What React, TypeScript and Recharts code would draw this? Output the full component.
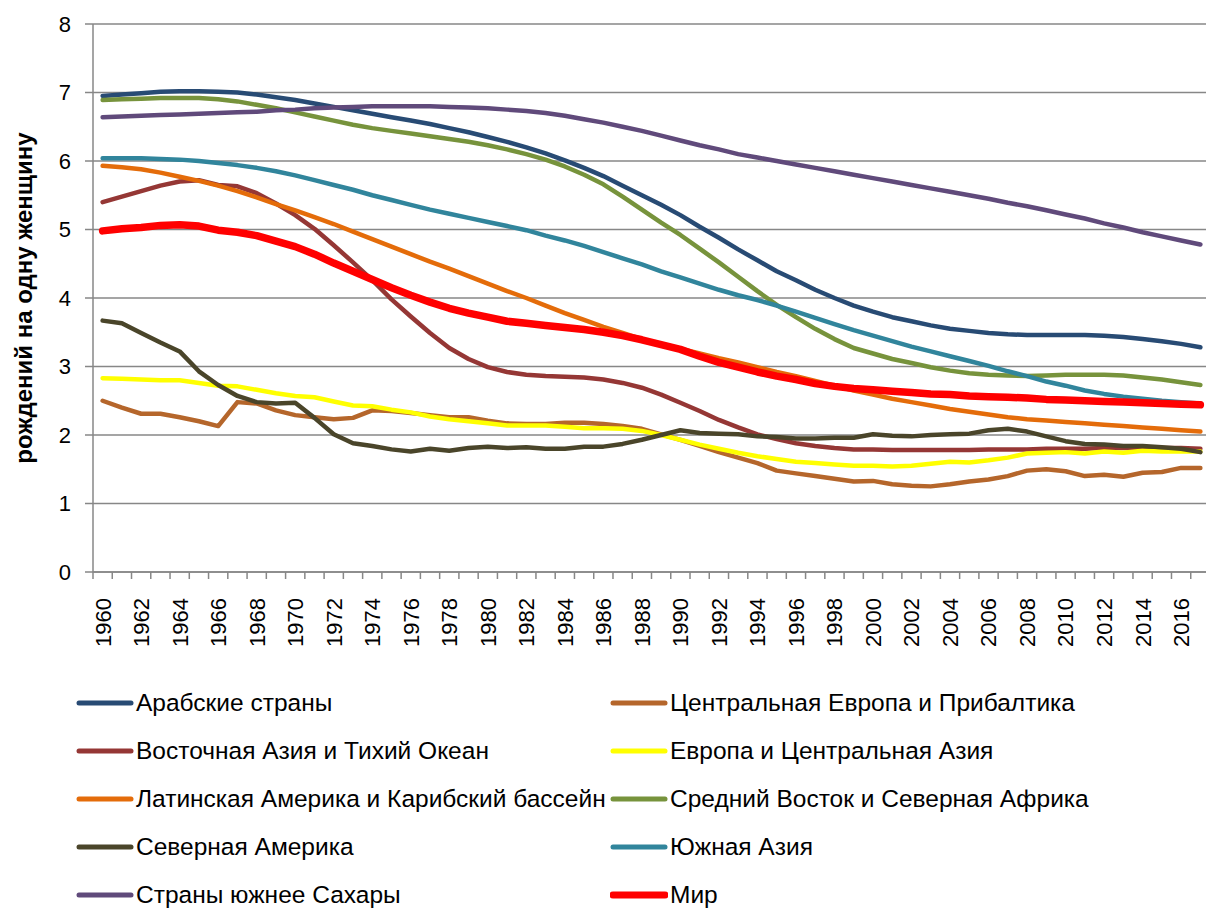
import { LineChart, Line, XAxis, YAxis, CartesianGrid, Legend } from "recharts";

const years = [
  "1960", "1961", "1962", "1963", "1964", "1965", "1966", "1967", "1968", "1969",
  "1970", "1971", "1972", "1973", "1974", "1975", "1976", "1977", "1978", "1979",
  "1980", "1981", "1982", "1983", "1984", "1985", "1986", "1987", "1988", "1989",
  "1990", "1991", "1992", "1993", "1994", "1995", "1996", "1997", "1998", "1999",
  "2000", "2001", "2002", "2003", "2004", "2005", "2006", "2007", "2008", "2009",
  "2010", "2011", "2012", "2013", "2014", "2015", "2016", "2017",
];

const yTicks = [0, 1, 2, 3, 4, 5, 6, 7, 8];

const arab = [
  6.95, 6.97, 6.99, 7.01, 7.02, 7.02, 7.01, 7.0, 6.97, 6.93,
  6.89, 6.84, 6.79, 6.74, 6.69, 6.64, 6.59, 6.54, 6.48, 6.42,
  6.35, 6.28, 6.2, 6.11, 6.01, 5.9, 5.78, 5.64, 5.5, 5.36,
  5.21, 5.04, 4.88, 4.71, 4.55, 4.39, 4.26, 4.12, 4.0, 3.89,
  3.8, 3.72, 3.66, 3.6, 3.55, 3.52, 3.49, 3.47, 3.46, 3.46,
  3.46, 3.46, 3.45, 3.43, 3.4, 3.37, 3.33, 3.28,
];
const centralEurope = [
  2.5, 2.4, 2.31, 2.31, 2.26, 2.2, 2.13, 2.48, 2.46, 2.36,
  2.29, 2.26, 2.23, 2.25, 2.36, 2.35, 2.32, 2.29, 2.26, 2.26,
  2.21, 2.17, 2.16, 2.16, 2.18, 2.18, 2.16, 2.13, 2.09, 2.01,
  1.93, 1.84, 1.75, 1.67, 1.59, 1.48, 1.44, 1.4, 1.36, 1.32,
  1.33, 1.28, 1.26, 1.25, 1.28, 1.32, 1.35, 1.4, 1.48, 1.5,
  1.47, 1.4, 1.42, 1.39, 1.45, 1.46, 1.52, 1.52,
];
const eastAsia = [
  5.4, 5.48, 5.56, 5.64, 5.7, 5.72, 5.65, 5.63, 5.53, 5.38,
  5.21, 5.01, 4.77, 4.52, 4.26, 3.98, 3.73, 3.49, 3.27, 3.11,
  2.99, 2.92, 2.88, 2.86, 2.85, 2.84, 2.81, 2.76, 2.69, 2.59,
  2.47, 2.35, 2.22, 2.11, 2.01, 1.94, 1.88, 1.84, 1.81, 1.79,
  1.79, 1.78, 1.78, 1.78, 1.78, 1.78, 1.79, 1.79, 1.79, 1.8,
  1.8, 1.8, 1.81, 1.81, 1.81, 1.81, 1.81, 1.8,
];
const europeCA = [
  2.83, 2.82, 2.81, 2.8, 2.8, 2.76, 2.72, 2.71, 2.66, 2.61,
  2.57, 2.55, 2.49, 2.43, 2.42, 2.37, 2.33, 2.27, 2.23, 2.2,
  2.17, 2.14, 2.14, 2.14, 2.12, 2.1, 2.1, 2.09, 2.06, 2.0,
  1.93, 1.86, 1.8, 1.74, 1.69, 1.65, 1.61, 1.59, 1.57, 1.55,
  1.55, 1.54, 1.55, 1.58, 1.61, 1.6, 1.63, 1.67, 1.73, 1.74,
  1.75, 1.73, 1.76, 1.74, 1.77, 1.76, 1.76, 1.76,
];
const latAm = [
  5.93, 5.91, 5.88, 5.83, 5.77, 5.71, 5.64, 5.56, 5.47, 5.37,
  5.28, 5.18, 5.08, 4.97, 4.86, 4.75, 4.64, 4.53, 4.43, 4.32,
  4.21, 4.1, 4.0, 3.89, 3.78, 3.68, 3.58, 3.49, 3.4, 3.33,
  3.26, 3.19, 3.12, 3.06, 2.99, 2.92, 2.86, 2.79, 2.72, 2.65,
  2.59, 2.53, 2.48, 2.43, 2.38, 2.34, 2.3, 2.26, 2.23, 2.21,
  2.19, 2.17, 2.15, 2.13, 2.11, 2.09, 2.07, 2.05,
];
const mena = [
  6.89, 6.9, 6.91, 6.92, 6.92, 6.92, 6.9, 6.87, 6.82, 6.77,
  6.71, 6.65, 6.59, 6.53, 6.48, 6.44, 6.4, 6.36, 6.32, 6.28,
  6.23, 6.17, 6.1, 6.02, 5.92, 5.8, 5.66, 5.48, 5.29, 5.1,
  4.92, 4.72, 4.52, 4.31, 4.1, 3.9, 3.72, 3.55, 3.4, 3.27,
  3.19, 3.11, 3.05, 2.99, 2.94, 2.9, 2.88, 2.87, 2.86, 2.87,
  2.88, 2.88, 2.88, 2.87, 2.84, 2.81, 2.77, 2.73,
];
const northAm = [
  3.67, 3.63, 3.49, 3.35, 3.22, 2.93, 2.73, 2.57, 2.48, 2.46,
  2.47, 2.25, 2.01, 1.88, 1.84, 1.79, 1.76, 1.8, 1.77, 1.81,
  1.83, 1.81, 1.82, 1.8, 1.8, 1.83, 1.83, 1.87, 1.93, 2.0,
  2.07, 2.03, 2.02, 2.01, 1.98, 1.97, 1.95, 1.95, 1.96, 1.96,
  2.01, 1.99, 1.98, 2.0, 2.01, 2.02, 2.07, 2.09, 2.05, 1.98,
  1.91, 1.87, 1.86, 1.84, 1.84, 1.82, 1.8, 1.75,
];
const southAsia = [
  6.04, 6.04, 6.04, 6.03, 6.02, 6.0, 5.97, 5.94, 5.9, 5.85,
  5.79, 5.72, 5.65, 5.58, 5.5, 5.43, 5.36, 5.29, 5.23, 5.17,
  5.11, 5.05, 4.99, 4.91, 4.84, 4.76, 4.67, 4.58, 4.49, 4.39,
  4.3, 4.21, 4.12, 4.04, 3.97, 3.89, 3.8, 3.71, 3.62, 3.53,
  3.45, 3.37, 3.29, 3.22, 3.15, 3.08, 3.01, 2.93, 2.86, 2.78,
  2.72, 2.65, 2.6, 2.56, 2.53, 2.5, 2.48, 2.46,
];
const ssa = [
  6.64, 6.65, 6.66, 6.67, 6.68, 6.69, 6.7, 6.71, 6.72, 6.74,
  6.75, 6.77, 6.78, 6.79, 6.8, 6.8, 6.8, 6.8, 6.79, 6.78,
  6.77, 6.75, 6.73, 6.7, 6.66, 6.61, 6.56, 6.5, 6.44, 6.37,
  6.3, 6.23, 6.17, 6.1, 6.05, 6.0, 5.95, 5.9, 5.85, 5.8,
  5.75, 5.7, 5.65, 5.6, 5.55, 5.5, 5.45, 5.39, 5.34, 5.28,
  5.22, 5.16, 5.09, 5.03, 4.96, 4.9, 4.84, 4.78,
];
const world = [
  4.98, 5.01, 5.03, 5.06, 5.07, 5.05, 4.99, 4.96, 4.91, 4.83,
  4.75, 4.64, 4.51, 4.39, 4.27, 4.15, 4.04, 3.94, 3.85, 3.78,
  3.72, 3.66, 3.63, 3.6, 3.57, 3.54, 3.5, 3.45, 3.39, 3.32,
  3.25, 3.15, 3.06, 2.99, 2.92, 2.86, 2.81, 2.75, 2.71, 2.68,
  2.66, 2.64, 2.62, 2.6, 2.59, 2.57, 2.56, 2.55, 2.54, 2.52,
  2.51, 2.5, 2.49, 2.48, 2.47, 2.46, 2.45, 2.44,
];

const series = [
  { key: "arab", name: "Арабские страны", color: "#284B74", width: 4.5, values: arab },
  { key: "centralEurope", name: "Центральная Европа и Прибалтика", color: "#B5662B", width: 4.5, values: centralEurope },
  { key: "eastAsia", name: "Восточная Азия и Тихий Океан", color: "#953735", width: 4.5, values: eastAsia },
  { key: "europeCA", name: "Европа и Центральная Азия", color: "#FFFF00", width: 4.5, values: europeCA },
  { key: "latAm", name: "Латинская Америка и Карибский бассейн", color: "#E46C0A", width: 4.5, values: latAm },
  { key: "mena", name: "Средний Восток и Северная Африка", color: "#77933C", width: 4.5, values: mena },
  { key: "northAm", name: "Северная Америка", color: "#4A452A", width: 4.5, values: northAm },
  { key: "southAsia", name: "Южная Азия", color: "#31859C", width: 4.5, values: southAsia },
  { key: "ssa", name: "Страны южнее Сахары", color: "#604A7B", width: 4.5, values: ssa },
  { key: "world", name: "Мир", color: "#FF0000", width: 7.5, values: world },
];

const data = years.map((year, i) => {
  const row: Record<string, any> = { year };
  series.forEach(s => { row[s.key] = s.values[i]; });
  return row;
});

const GRID = "#878787";
const CHART_W = 1210;
const CHART_H = 908;
const Y_AXIS_W = 93;
const HALF_STEP = (CHART_W - Y_AXIS_W) / years.length / 2;

function YearTick(props: any) {
  const { x, y, payload, index } = props;
  const label = String(payload.value);
  const show = Number(label) % 2 === 0;
  const ty = y + 26;
  return (
    <g>
      <line x1={x - HALF_STEP} x2={x - HALF_STEP} y1={y} y2={y + 7} stroke={GRID} strokeWidth={1.5} />
      {index === years.length - 1 && (
        <line x1={x + HALF_STEP} x2={x + HALF_STEP} y1={y} y2={y + 7} stroke={GRID} strokeWidth={1.5} />
      )}
      {show && (
        <text x={x} y={ty} dy="0.36em" textAnchor="end" fontSize={22} fill="#000"
          transform={`rotate(-90, ${x}, ${ty})`}>
          {label}
        </text>
      )}
    </g>
  );
}

function AxisTitle(props: any) {
  const { viewBox } = props;
  const cy = viewBox.y + viewBox.height / 2;
  const cx = 23;
  return (
    <text x={cx} y={cy} dy="0.36em" textAnchor="middle" fontSize={24} fontWeight="bold" fill="#000"
      transform={`rotate(-90, ${cx}, ${cy})`}>
      рождений на одну женщину
    </text>
  );
}

// legend keeps the series order (two columns, row by row) like the original
function LegendBox() {
  return (
    <div style={{ display: "grid", gridTemplateColumns: "534px 560px", gridAutoRows: "48px", paddingLeft: 76 }}>
      {series.map(s => (
        <div key={s.key} style={{ display: "flex", alignItems: "center" }}>
          <svg width={58} height={12} style={{ flex: "none" }}>
            <line x1={3} x2={55} y1={6} y2={6} stroke={s.color}
              strokeWidth={s.width > 5 ? 7 : 5} strokeLinecap="round" />
          </svg>
          <span style={{ fontSize: 24.5, lineHeight: "24px", marginLeft: 2, color: "#000", whiteSpace: "nowrap" }}>{s.name}</span>
        </div>
      ))}
    </div>
  );
}

export default function App() {
  return (
    <div style={{ position: "absolute", left: 0, top: 0, width: 1206, height: 908, overflow: "hidden", background: "#fff", fontFamily: "'Liberation Sans', Arial, sans-serif" }}>
      <LineChart width={CHART_W} height={CHART_H} data={data}
        margin={{ top: 24, right: 0, left: 0, bottom: 256 }}>
        <CartesianGrid vertical={false} stroke={GRID} strokeWidth={1.5} />
        <XAxis dataKey="year" scale="band" interval={0} height={80}
          tickLine={false} tickSize={0} tickMargin={0}
          axisLine={{ stroke: GRID, strokeWidth: 1.5 }} tick={<YearTick />} />
        <YAxis domain={[0, 8]} ticks={yTicks} width={Y_AXIS_W} interval={0}
          tickSize={8} tickMargin={14}
          tickLine={{ stroke: GRID, strokeWidth: 1.5 }}
          axisLine={{ stroke: GRID, strokeWidth: 1.5 }}
          tick={{ fontSize: 22, fill: "#000" }}
          label={<AxisTitle />} />
        {series.map(s => (
          <Line key={s.key} dataKey={s.key} name={s.name} type="linear"
            stroke={s.color} strokeWidth={s.width} strokeLinecap="round" strokeLinejoin="round"
            dot={false} activeDot={false} isAnimationActive={false} />
        ))}
        <Legend verticalAlign="middle" layout="horizontal" align="center"
          wrapperStyle={{ top: 679, left: 0, width: 1206 }}
          content={<LegendBox />} />
      </LineChart>
    </div>
  );
}
